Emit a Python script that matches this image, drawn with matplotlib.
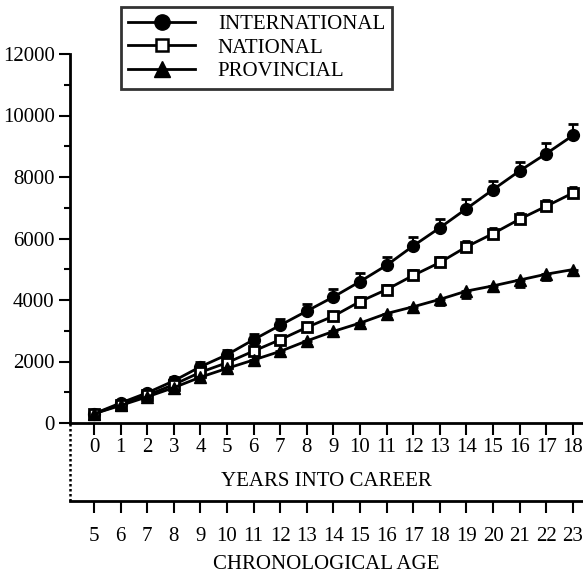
import matplotlib
matplotlib.use("Agg")
import numpy as np
from matplotlib import pyplot as plt
from matplotlib.lines import Line2D
from matplotlib.ticker import MultipleLocator

# values
years = list(range(0, 19))
ages = [y + 5 for y in years]

international = [300, 650, 980, 1370, 1830, 2220, 2710, 3180, 3640, 4100,
                 4600, 5130, 5760, 6350, 6970, 7590, 8200, 8760, 9350]
national = [300, 600, 900, 1250, 1650, 1960, 2340, 2710, 3110, 3475,
            3950, 4340, 4800, 5220, 5730, 6160, 6630, 7050, 7480]
provincial = [300, 570, 850, 1150, 1490, 1776, 2050, 2330, 2670, 2980,
              3250, 3560, 3780, 4020, 4290, 4460, 4650, 4840, 4990]

international_se = [60, 80, 100, 120, 140, 160, 190, 210, 230, 250,
                    270, 270, 280, 280, 300, 290, 300, 340, 360]
national_se = [40, 60, 70, 80, 90, 100, 110, 120, 130, 140,
               150, 160, 160, 170, 180, 180, 190, 200, 210]
provincial_se = [40, 50, 60, 70, 80, 90, 100, 110, 120, 130,
                 140, 150, 160, 170, 210, 170, 230, 180, 170]

plt.rcParams["font.family"] = ["Liberation Serif", "DejaVu Serif"]
plt.rcParams["font.size"] = 15

W, H = 583, 574
fig = plt.figure(figsize=(W / 100, H / 100), dpi=100)

left = 70 / W
top_px, zero_px, low_px = 54, 423, 501
ax = fig.add_axes([left, 1 - zero_px / H, 1 - left, (zero_px - top_px) / H])
ax2 = fig.add_axes([left, 1 - low_px / H, 1 - left, (low_px - zero_px) / H])

lw = 2.0
z = np.zeros(len(years))
ax.errorbar(years, international, yerr=[z, international_se], color="black",
            marker="o", markersize=8.5, lw=lw, capsize=3.5, elinewidth=1.5,
            capthick=2, clip_on=False, zorder=3)
ax.errorbar(years, national, yerr=[z, national_se], color="black",
            marker="s", markersize=6.5, markerfacecolor="white",
            markeredgewidth=2, lw=lw, capsize=3, elinewidth=1.5, capthick=2,
            clip_on=False, zorder=3)
ax.errorbar(years, provincial, yerr=[provincial_se, z], color="black",
            marker="^", markersize=9, lw=lw, capsize=3.5, elinewidth=1.5,
            capthick=2, clip_on=False, zorder=3)

xlo, xhi = -0.90, 18.38
for a in (ax, ax2):
    a.set_xlim(xlo, xhi)
    a.set_xticks(years)
    a.spines["right"].set_visible(False)
    a.spines["top"].set_visible(False)
    a.spines["bottom"].set_linewidth(lw)
    a.spines["left"].set_linewidth(lw)

ax.set_ylim(0, 12000)
ax.yaxis.set_major_locator(MultipleLocator(2000))
ax.yaxis.set_minor_locator(MultipleLocator(1000))
ax.tick_params(axis="y", which="major", direction="out", length=8, width=1.5, pad=3)
ax.tick_params(axis="y", which="minor", direction="out", length=4, width=1.5)
ax.tick_params(axis="x", direction="out", length=8.5, width=1.5, pad=2)
ax.set_xticklabels([str(y) for y in years])
ax.set_xlabel("YEARS INTO CAREER", labelpad=11)

# lower axis: ages, joined to the upper one by a dotted line
ax2.set_ylim(0, 1)
ax2.set_yticks([])
ax2.patch.set_alpha(0)
ax2.spines["left"].set_visible(False)
ax2.add_line(Line2D([0, 0], [0, 1], transform=ax2.transAxes, color="black",
                    lw=1.8, linestyle=(0, (1.0, 1.0)),
                    dash_capstyle="butt", clip_on=False))
ax2.tick_params(axis="x", direction="out", length=8.5, width=1.5, pad=10)
ax2.set_xticklabels([str(a) for a in ages])
ax2.set_xlabel("CHRONOLOGICAL AGE", labelpad=7)

handles = [
    Line2D([], [], color="black", lw=lw, marker="o", markersize=11),
    Line2D([], [], color="black", lw=lw, marker="s", markersize=9,
           markerfacecolor="white", markeredgewidth=1.8),
    Line2D([], [], color="black", lw=lw, marker="^", markersize=11),
]
labels = ["INTERNATIONAL", "NATIONAL", "PROVINCIAL"]
leg = fig.legend(handles, labels, loc="upper left",
                 bbox_to_anchor=(121 / W, 1 - 7 / H),
                 frameon=True, fancybox=False, edgecolor="black",
                 handlelength=3.2, handletextpad=1.1, borderpad=0.35,
                 labelspacing=0.2, borderaxespad=0)
leg.get_frame().set_linewidth(2)

fig.savefig("out.png", dpi=100)
